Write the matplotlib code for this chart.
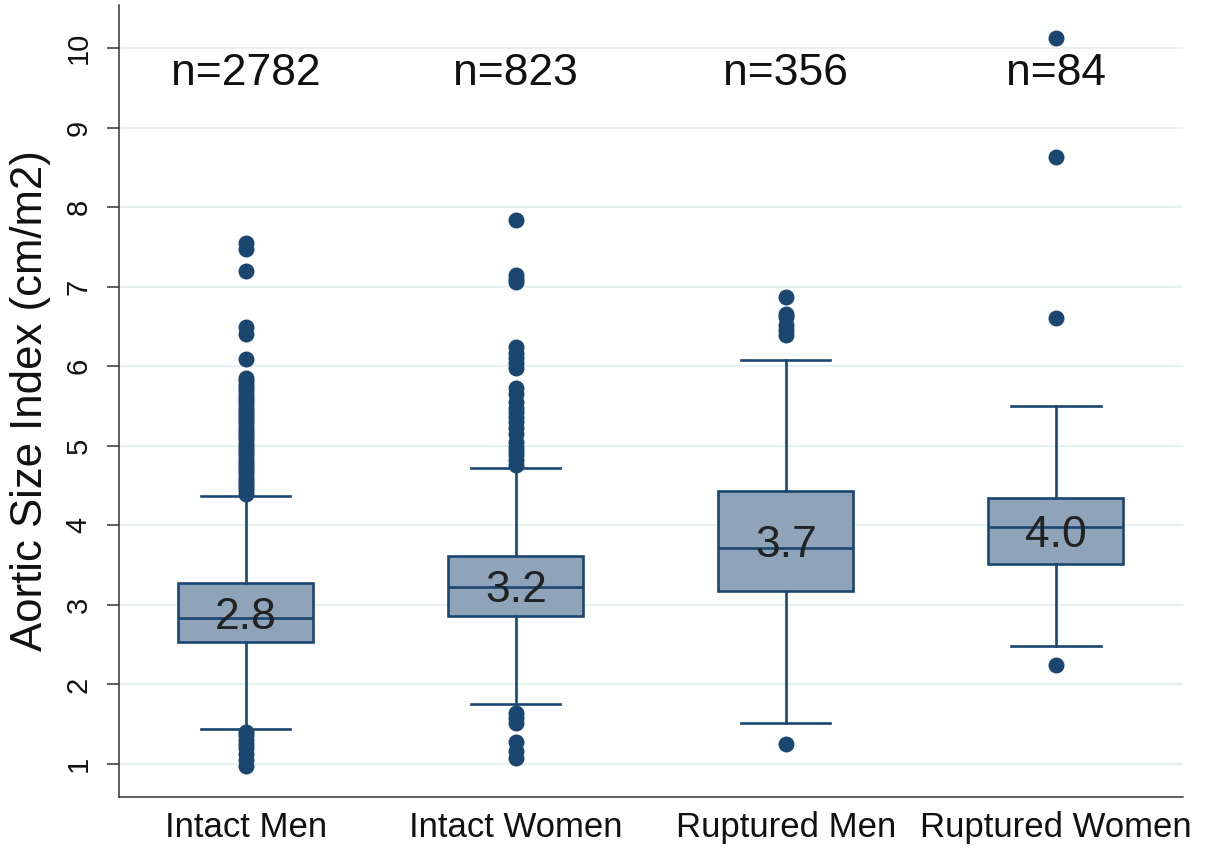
import matplotlib.pyplot as plt
import numpy as np

plt.rcParams['font.family'] = ['Liberation Sans', 'DejaVu Sans']

groups = ['Intact Men', 'Intact Women', 'Ruptured Men', 'Ruptured Women']
n_counts = [2782, 823, 356, 84]
q1 = [2.53, 2.86, 3.17, 3.51]
med = [2.84, 3.22, 3.72, 3.98]
q3 = [3.27, 3.62, 4.43, 4.34]
whis_lo = [1.44, 1.75, 1.51, 2.48]
whis_hi = [4.37, 4.72, 6.08, 5.50]

out_intact_men = [7.55, 7.47, 7.20, 6.49, 6.40, 6.09,
                  5.85, 5.81, 5.77, 5.73, 5.69, 5.64, 5.60, 5.56, 5.52, 5.48,
                  5.44, 5.40, 5.36, 5.32, 5.28, 5.24, 5.20, 5.16, 5.12, 5.08,
                  5.04, 5.00, 4.96, 4.92, 4.88, 4.84, 4.80, 4.76, 4.72, 4.68,
                  4.64, 4.60, 4.56, 4.52, 4.48, 4.44, 4.40,
                  1.40, 1.36, 1.30, 1.25, 1.20, 1.12, 1.05, 0.97]
out_intact_women = [7.84, 7.15, 7.09, 7.06, 6.24, 6.17, 6.10, 6.04, 5.98,
                    5.72, 5.65, 5.55, 5.48, 5.42, 5.36, 5.30, 5.22, 5.15,
                    5.05, 4.99, 4.93, 4.88, 4.82, 4.76,
                    1.64, 1.58, 1.52, 1.28, 1.16, 1.08]
out_ruptured_men = [6.87, 6.66, 6.62, 6.52, 6.45, 6.39, 1.25]
out_ruptured_women = [10.12, 8.63, 6.61, 2.24]
outliers = [out_intact_men, out_intact_women, out_ruptured_men, out_ruptured_women]

navy = '#1a4670'
box_fill = '#8fa4b9'

stats = []
for i in range(len(groups)):
    stats.append(dict(label=groups[i], q1=q1[i], med=med[i], q3=q3[i],
                      whislo=whis_lo[i], whishi=whis_hi[i], fliers=outliers[i]))

fig = plt.figure(figsize=(12.07, 8.48), dpi=100)
ax = fig.add_axes([0.0986, 0.0601, 0.8814, 0.934])

ax.bxp(stats, positions=[1, 2, 3, 4], widths=0.5, capwidths=0.33,
       patch_artist=True,
       boxprops=dict(facecolor=box_fill, edgecolor=navy, linewidth=1.9),
       medianprops=dict(color=navy, linewidth=1.9),
       whiskerprops=dict(color=navy, linewidth=1.9),
       capprops=dict(color=navy, linewidth=1.9),
       flierprops=dict(marker='o', markerfacecolor=navy, markeredgecolor='none',
                       markersize=11.5))

for i in range(len(groups)):
    ax.text(i + 1, (q1[i] + q3[i]) / 2, f'{med[i]:.1f}', ha='center',
            va='center_baseline', fontsize=32, color='#222222', zorder=5)
    ax.text(i + 1, 9.68, f'n={n_counts[i]}', ha='center', va='center',
            fontsize=32, color='#111111')

ax.set_xlim(0.53, 4.47)
ax.set_ylim(0.585, 10.54)
ax.set_yticks(range(1, 11))
ax.set_xticks([1, 2, 3, 4])
ax.set_xticklabels(groups, fontsize=25)
ax.tick_params(axis='x', length=0, pad=10, colors='#111111')
ax.tick_params(axis='y', length=9, width=1.1, pad=10, labelsize=21,
               color='#333333', labelcolor='#111111')
for lab in ax.get_yticklabels():
    lab.set_rotation(90)
    lab.set_va('center')
ax.set_ylabel('Aortic Size Index (cm/m2)', fontsize=31.5, color='#111111', labelpad=10)

ax.grid(axis='y', color='#e9f0f2', linewidth=1.6)
ax.set_axisbelow(True)
ax.spines['top'].set_visible(False)
ax.spines['right'].set_visible(False)
ax.spines['left'].set_color('#333333')
ax.spines['bottom'].set_color('#333333')
ax.spines['left'].set_linewidth(1.1)
ax.spines['bottom'].set_linewidth(1.1)

fig.savefig('out.png', dpi=100)
